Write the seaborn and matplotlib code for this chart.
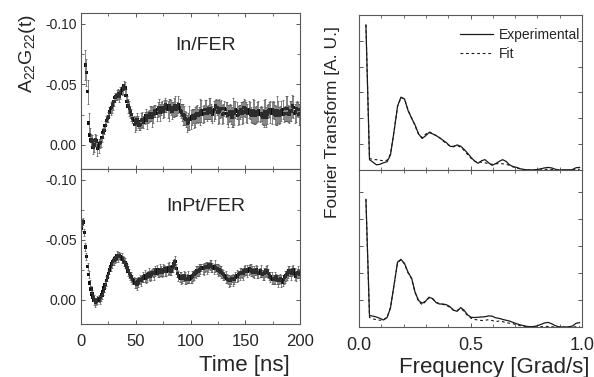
import numpy as np
import matplotlib
matplotlib.use("Agg")
import matplotlib.pyplot as plt
import seaborn as sns
from matplotlib.ticker import MultipleLocator, NullFormatter

# time-domain spectra, values (1 ns steps)
t_in = np.arange(4, 201, 1)
g_in = [-0.066, -0.060, -0.044, -0.018, -0.008, -0.004, -0.003, 0.002, 0.000, -0.004,
        -0.003, 0.003, 0.001, -0.001, -0.002, -0.006, -0.010, -0.012, -0.016, -0.020,
        -0.022, -0.023, -0.027, -0.030, -0.031, -0.033, -0.036, -0.039, -0.040, -0.041,
        -0.042, -0.040, -0.043, -0.045, -0.046, -0.049, -0.047, -0.041, -0.036, -0.032,
        -0.030, -0.027, -0.025, -0.022, -0.020, -0.017, -0.018, -0.021, -0.019, -0.016,
        -0.017, -0.020, -0.021, -0.019, -0.022, -0.024, -0.020, -0.023, -0.024, -0.026,
        -0.026, -0.023, -0.025, -0.028, -0.028, -0.026, -0.029, -0.031, -0.027, -0.030,
        -0.031, -0.028, -0.030, -0.033, -0.032, -0.029, -0.029, -0.032, -0.031, -0.028,
        -0.029, -0.031, -0.032, -0.029, -0.030, -0.033, -0.031, -0.028, -0.027, -0.025,
        -0.024, -0.022, -0.021, -0.018, -0.019, -0.022, -0.021, -0.023, -0.024, -0.022,
        -0.023, -0.025, -0.026, -0.024, -0.025, -0.027, -0.028, -0.025, -0.026, -0.029,
        -0.029, -0.026, -0.027, -0.030, -0.030, -0.027, -0.025, -0.028, -0.029, -0.032,
        -0.031, -0.027, -0.028, -0.029, -0.030, -0.025, -0.026, -0.030, -0.029, -0.026,
        -0.024, -0.026, -0.027, -0.025, -0.023, -0.027, -0.026, -0.029, -0.028, -0.024,
        -0.025, -0.027, -0.029, -0.026, -0.027, -0.031, -0.030, -0.027, -0.026, -0.029,
        -0.028, -0.025, -0.024, -0.028, -0.027, -0.024, -0.025, -0.027, -0.028, -0.025,
        -0.026, -0.024, -0.023, -0.026, -0.027, -0.023, -0.025, -0.028, -0.029, -0.027,
        -0.026, -0.029, -0.028, -0.025, -0.024, -0.028, -0.027, -0.024, -0.025, -0.028,
        -0.029, -0.025, -0.026, -0.030, -0.030, -0.026, -0.025, -0.028, -0.028, -0.032,
        -0.031, -0.026, -0.027, -0.030, -0.029, -0.025, -0.026]
err_in = [0.012, 0.011, 0.010, 0.008, 0.006, 0.005, 0.005, 0.006, 0.006, 0.005,
          0.005, 0.006, 0.006, 0.004, 0.004, 0.004, 0.004, 0.003, 0.004, 0.004,
          0.003, 0.004, 0.004, 0.005, 0.005, 0.004, 0.004, 0.004, 0.003, 0.004,
          0.004, 0.005, 0.005, 0.004, 0.004, 0.004, 0.005, 0.005, 0.004, 0.006,
          0.006, 0.005, 0.005, 0.004, 0.004, 0.006, 0.006, 0.005, 0.005, 0.004,
          0.005, 0.006, 0.006, 0.005, 0.005, 0.006, 0.007, 0.005, 0.005, 0.006,
          0.006, 0.008, 0.007, 0.005, 0.005, 0.006, 0.006, 0.007, 0.007, 0.005,
          0.005, 0.006, 0.007, 0.006, 0.005, 0.007, 0.009, 0.006, 0.006, 0.007,
          0.006, 0.008, 0.008, 0.005, 0.005, 0.007, 0.007, 0.006, 0.007, 0.009,
          0.008, 0.006, 0.006, 0.007, 0.007, 0.010, 0.008, 0.007, 0.006, 0.008,
          0.008, 0.007, 0.007, 0.006, 0.006, 0.011, 0.009, 0.007, 0.007, 0.008,
          0.008, 0.006, 0.006, 0.009, 0.009, 0.007, 0.007, 0.008, 0.008, 0.006,
          0.006, 0.010, 0.010, 0.007, 0.007, 0.008, 0.008, 0.006, 0.006, 0.009,
          0.009, 0.007, 0.007, 0.008, 0.008, 0.012, 0.010, 0.007, 0.007, 0.008,
          0.008, 0.006, 0.006, 0.009, 0.009, 0.007, 0.007, 0.008, 0.008, 0.007,
          0.007, 0.006, 0.006, 0.010, 0.010, 0.007, 0.007, 0.008, 0.008, 0.006,
          0.006, 0.007, 0.007, 0.011, 0.011, 0.008, 0.008, 0.006, 0.006, 0.009,
          0.009, 0.007, 0.007, 0.008, 0.008, 0.012, 0.009, 0.007, 0.007, 0.008,
          0.008, 0.006, 0.006, 0.010, 0.010, 0.007, 0.007, 0.008, 0.008, 0.009,
          0.009, 0.008, 0.008, 0.006, 0.006, 0.009, 0.008]

t_inpt = np.arange(0, 201, 1)
g_inpt = [-0.060, -0.064, -0.065, -0.056, -0.044, -0.036, -0.028, -0.021, -0.014, -0.009,
          -0.005, -0.002, 0.000, 0.002, 0.001, 0.000, -0.001, 0.000, -0.002, -0.004,
          -0.007, -0.010, -0.013, -0.016, -0.019, -0.022, -0.025, -0.028, -0.030, -0.032,
          -0.033, -0.034, -0.035, -0.037, -0.036, -0.037, -0.036, -0.035, -0.034, -0.032,
          -0.031, -0.029, -0.027, -0.024, -0.022, -0.020, -0.019, -0.017, -0.016, -0.014,
          -0.014, -0.013, -0.015, -0.016, -0.017, -0.016, -0.018, -0.019, -0.020, -0.018,
          -0.019, -0.021, -0.022, -0.020, -0.021, -0.023, -0.023, -0.022, -0.024, -0.025,
          -0.022, -0.023, -0.025, -0.024, -0.023, -0.025, -0.026, -0.024, -0.024, -0.026,
          -0.027, -0.025, -0.024, -0.027, -0.028, -0.030, -0.032, -0.026, -0.022, -0.020,
          -0.019, -0.018, -0.018, -0.019, -0.020, -0.018, -0.017, -0.018, -0.019, -0.017,
          -0.018, -0.019, -0.020, -0.021, -0.022, -0.023, -0.024, -0.024, -0.025, -0.026,
          -0.027, -0.026, -0.026, -0.027, -0.028, -0.027, -0.027, -0.029, -0.029, -0.028,
          -0.027, -0.026, -0.028, -0.027, -0.026, -0.025, -0.025, -0.024, -0.023, -0.022,
          -0.021, -0.020, -0.019, -0.018, -0.017, -0.016, -0.016, -0.017, -0.018, -0.017,
          -0.017, -0.019, -0.020, -0.020, -0.021, -0.022, -0.023, -0.022, -0.022, -0.024,
          -0.025, -0.024, -0.024, -0.025, -0.026, -0.025, -0.024, -0.023, -0.023, -0.024,
          -0.025, -0.023, -0.022, -0.023, -0.024, -0.022, -0.021, -0.022, -0.023, -0.024,
          -0.024, -0.022, -0.020, -0.019, -0.018, -0.017, -0.017, -0.018, -0.019, -0.017,
          -0.016, -0.017, -0.018, -0.016, -0.015, -0.017, -0.019, -0.020, -0.021, -0.023,
          -0.024, -0.023, -0.022, -0.024, -0.025, -0.022, -0.020, -0.022, -0.023, -0.022,
          -0.021]
err_inpt = [0.003, 0.003, 0.003, 0.003, 0.003, 0.003, 0.003, 0.003, 0.003, 0.003,
            0.003, 0.003, 0.004, 0.004, 0.003, 0.003, 0.003, 0.003, 0.003, 0.003,
            0.003, 0.003, 0.003, 0.004, 0.003, 0.003, 0.003, 0.004, 0.003, 0.003,
            0.004, 0.003, 0.003, 0.004, 0.004, 0.003, 0.003, 0.004, 0.003, 0.004,
            0.004, 0.003, 0.003, 0.004, 0.004, 0.003, 0.004, 0.004, 0.003, 0.004,
            0.004, 0.005, 0.004, 0.003, 0.004, 0.004, 0.003, 0.004, 0.005, 0.004,
            0.004, 0.003, 0.005, 0.004, 0.004, 0.003, 0.004, 0.005, 0.004, 0.004,
            0.003, 0.004, 0.005, 0.004, 0.004, 0.005, 0.003, 0.004, 0.004, 0.005,
            0.005, 0.004, 0.003, 0.004, 0.005, 0.004, 0.005, 0.004, 0.003, 0.004,
            0.004, 0.005, 0.004, 0.003, 0.004, 0.005, 0.004, 0.004, 0.005, 0.003,
            0.004, 0.005, 0.004, 0.004, 0.003, 0.005, 0.004, 0.004, 0.005, 0.004,
            0.003, 0.004, 0.005, 0.004, 0.004, 0.005, 0.004, 0.003, 0.004, 0.005,
            0.004, 0.004, 0.005, 0.003, 0.004, 0.005, 0.004, 0.004, 0.005, 0.004,
            0.004, 0.003, 0.005, 0.004, 0.004, 0.005, 0.004, 0.004, 0.003, 0.005,
            0.004, 0.004, 0.005, 0.004, 0.003, 0.005, 0.004, 0.004, 0.005, 0.004,
            0.004, 0.003, 0.005, 0.004, 0.004, 0.005, 0.004, 0.004, 0.005, 0.003,
            0.004, 0.005, 0.004, 0.004, 0.005, 0.003, 0.004, 0.005, 0.004, 0.004,
            0.005, 0.004, 0.003, 0.004, 0.005, 0.004, 0.004, 0.005, 0.003, 0.004,
            0.005, 0.004, 0.004, 0.005, 0.003, 0.004, 0.005, 0.004, 0.004, 0.005,
            0.004, 0.003, 0.005, 0.004, 0.004, 0.005, 0.004, 0.004, 0.005, 0.004,
            0.004]

# Fourier transforms (arbitrary units)
freq = [0.031, 0.047, 0.063, 0.078, 0.094, 0.110, 0.126, 0.141, 0.157, 0.173,
        0.188, 0.204, 0.220, 0.236, 0.251, 0.267, 0.283, 0.298, 0.314, 0.330,
        0.346, 0.361, 0.377, 0.393, 0.408, 0.424, 0.440, 0.456, 0.471, 0.487,
        0.503, 0.518, 0.534, 0.550, 0.565, 0.581, 0.597, 0.613, 0.628, 0.644,
        0.660, 0.675, 0.691, 0.707, 0.723, 0.738, 0.754, 0.770, 0.785, 0.801,
        0.817, 0.832, 0.848, 0.864, 0.880, 0.895, 0.911, 0.927, 0.942, 0.958,
        0.974, 0.990]
ft_in_exp = [5.62, 0.40, 0.30, 0.20, 0.22, 0.28, 0.32, 0.58, 1.48, 2.48,
             2.82, 2.75, 2.30, 2.00, 1.75, 1.40, 1.22, 1.32, 1.45, 1.40,
             1.33, 1.25, 1.15, 1.05, 0.92, 0.90, 0.97, 0.92, 0.80, 0.65,
             0.48, 0.35, 0.26, 0.36, 0.40, 0.28, 0.18, 0.25, 0.33, 0.40,
             0.33, 0.20, 0.13, 0.10, 0.05, 0.02, 0.01, 0.00, 0.01, 0.02,
             0.05, 0.08, 0.10, 0.08, 0.03, 0.00, 0.00, 0.01, 0.00, 0.02,
             0.09, 0.10]
ft_in_fit = [5.62, 0.45, 0.40, 0.40, 0.38, 0.35, 0.38, 0.62, 1.50, 2.46,
             2.80, 2.75, 2.32, 2.02, 1.72, 1.38, 1.25, 1.38, 1.48, 1.42,
             1.33, 1.25, 1.12, 1.02, 0.93, 0.92, 0.95, 0.88, 0.76, 0.60,
             0.45, 0.34, 0.30, 0.30, 0.28, 0.24, 0.22, 0.24, 0.25, 0.24,
             0.22, 0.18, 0.12, 0.08, 0.04, 0.02, 0.01, 0.00, 0.00, 0.00,
             0.01, 0.02, 0.03, 0.02, 0.01, 0.00, 0.00, 0.00, 0.00, 0.00,
             0.02, 0.03]
ft_inpt_exp = [4.72, 0.42, 0.40, 0.37, 0.32, 0.26, 0.35, 0.70, 1.55, 2.40,
               2.50, 2.35, 2.02, 1.80, 1.30, 0.98, 0.88, 0.95, 1.10, 1.05,
               0.90, 0.85, 0.85, 0.82, 0.75, 0.62, 0.58, 0.72, 0.62, 0.45,
               0.36, 0.35, 0.36, 0.37, 0.38, 0.41, 0.40, 0.34, 0.32, 0.28,
               0.25, 0.22, 0.17, 0.12, 0.08, 0.05, 0.02, 0.01, 0.02, 0.05,
               0.10, 0.15, 0.17, 0.12, 0.05, 0.01, 0.00, 0.00, 0.01, 0.04,
               0.14, 0.16]
ft_inpt_fit = [4.72, 0.35, 0.30, 0.27, 0.25, 0.27, 0.36, 0.72, 1.55, 2.38,
               2.48, 2.33, 2.00, 1.78, 1.28, 0.95, 0.82, 0.94, 1.08, 1.03,
               0.92, 0.86, 0.83, 0.80, 0.72, 0.62, 0.62, 0.68, 0.58, 0.42,
               0.32, 0.28, 0.26, 0.24, 0.25, 0.27, 0.24, 0.20, 0.22, 0.20,
               0.16, 0.14, 0.12, 0.08, 0.05, 0.03, 0.01, 0.00, 0.00, 0.00,
               0.01, 0.02, 0.02, 0.01, 0.00, 0.00, 0.00, 0.00, 0.00, 0.00,
               0.01, 0.02]

sns.set_theme(style="ticks")
plt.rcParams["font.family"] = ["Liberation Sans", "DejaVu Sans"]
plt.rcParams["mathtext.default"] = "regular"
plt.rcParams["axes.edgecolor"] = "0.35"
plt.rcParams["axes.linewidth"] = 0.8

fig = plt.figure(figsize=(5.94, 3.77), dpi=100)
ax_t1 = fig.add_axes([0.1364, 0.5517, 0.3687, 0.4138])
ax_t2 = fig.add_axes([0.1364, 0.1406, 0.3687, 0.4111])
ax_f1 = fig.add_axes([0.6044, 0.5491, 0.3754, 0.4111])
ax_f2 = fig.add_axes([0.6044, 0.1326, 0.3754, 0.4164])


def time_panel(ax, t, g, err, label, lab_y):
    ax.errorbar(t, g, yerr=err, fmt="none", ecolor="0.25", elinewidth=0.45, capsize=0.7,
                capthick=0.45)
    sns.scatterplot(x=t, y=g, ax=ax, marker="s", s=6, color="0.05", edgecolor="none")
    ax.set_xlim(0, 200)
    ax.set_ylim(0.02, -0.109)
    ax.xaxis.set_major_locator(MultipleLocator(50))
    ax.xaxis.set_minor_locator(MultipleLocator(25))
    ax.yaxis.set_major_locator(MultipleLocator(0.05))
    ax.yaxis.set_minor_locator(MultipleLocator(0.025))
    ax.yaxis.set_major_formatter(plt.FuncFormatter(lambda v, p: f"{v:.2f}".replace("-0.00", "0.00")))
    ax.tick_params(which="both", direction="in", top=True, right=True, color="0.35")
    ax.tick_params(which="major", length=3, width=0.7)
    ax.tick_params(which="minor", length=2, width=0.6)
    ax.tick_params(axis="y", labelsize=10, pad=3)
    ax.tick_params(axis="x", labelsize=12, pad=7)
    ax.text(0.57, lab_y, label, transform=ax.transAxes, ha="center", va="center", fontsize=14)


def ft_panel(ax, exp, fit, ymax, legend):
    sns.lineplot(x=freq, y=exp, ax=ax, color="0.1", linewidth=0.9, label="Experimental" if legend else None)
    sns.lineplot(x=freq, y=fit, ax=ax, color="0.1", linewidth=0.8, linestyle=(0, (2.5, 2.5)),
                 label="Fit" if legend else None)
    ax.set_xlim(0, 1.0)
    ax.set_ylim(0, ymax)
    ax.xaxis.set_major_locator(MultipleLocator(0.5))
    ax.xaxis.set_minor_locator(MultipleLocator(0.1))
    ax.yaxis.set_major_locator(MultipleLocator(1))
    ax.yaxis.set_major_formatter(NullFormatter())
    ax.tick_params(which="both", direction="in", top=True, right=True, color="0.35")
    ax.tick_params(which="major", length=3, width=0.7)
    ax.tick_params(which="minor", length=2, width=0.6)
    ax.tick_params(axis="x", labelsize=13, pad=7)
    ax.set_xlabel("")
    ax.set_ylabel("")


time_panel(ax_t1, t_in, g_in, err_in, "In/FER", 0.79)
time_panel(ax_t2, t_inpt, g_inpt, err_inpt, "InPt/FER", 0.76)
ax_t1.tick_params(axis="x", labelbottom=False)

ft_panel(ax_f1, ft_in_exp, ft_in_fit, 6.0, True)
ft_panel(ax_f2, ft_inpt_exp, ft_inpt_fit, 5.8, False)
ax_f1.tick_params(axis="x", labelbottom=False)
ax_f1.legend(loc="upper right", bbox_to_anchor=(1.03, 0.97), frameon=False, fontsize=10,
             handlelength=2.4, handletextpad=0.4, labelspacing=0.35, borderaxespad=0.2)

fig.text(27 / 594, 1 - 53 / 377, "$A_{22}G_{22}(t)$", rotation=90, ha="center", va="center", fontsize=14)
fig.text(244 / 594, 1 - 365 / 377, "Time [ns]", ha="center", va="center", fontsize=16)
fig.text(332 / 594, 1 - 122 / 377, "Fourier Transform [A. U.]", rotation=90, ha="center", va="center",
         fontsize=12.5)
fig.text(494 / 594, 1 - 367 / 377, "Frequency [Grad/s]", ha="center", va="center", fontsize=16)

fig.savefig("out.png", dpi=100, facecolor="white")
